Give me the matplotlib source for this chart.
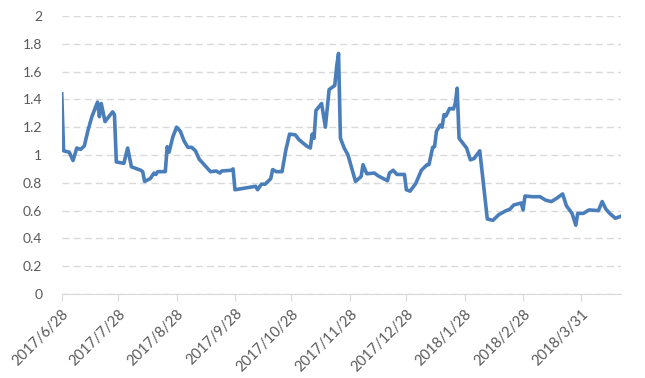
import matplotlib
matplotlib.use('Agg')
import matplotlib.pyplot as plt
import numpy as np
import pandas as pd

# data: days after 2017/6/28 and value
start_date = '2017-06-28'
day_offset = [0, 1, 4, 6, 8, 10, 12, 14, 16, 19, 20, 21, 23, 27, 28, 29, 33, 35, 37,
              42, 43, 44, 47, 49, 50, 51, 55, 56, 57, 59, 61, 63, 65, 67, 69, 71, 73,
              79, 82, 84, 85, 90, 91, 92, 103, 104, 106, 108, 111, 112, 114, 117, 119,
              121, 124, 126, 130, 132, 133, 134, 135, 138, 140, 142, 145, 146, 147,
              148, 150, 152, 156, 159, 160, 162, 166, 168, 173, 174, 176, 178, 182,
              183, 185, 188, 191, 194, 195, 197, 198, 199, 201, 202, 203, 204, 206,
              208, 209, 210, 211, 215, 217, 219, 222, 226, 229, 232, 236, 238, 240,
              244, 245, 246, 250, 252, 254, 257, 260, 263, 266, 268, 271, 273, 274,
              277, 280, 285, 287, 289, 291, 294, 297]
values = [1.44, 1.03, 1.02, 0.96, 1.05, 1.04, 1.065, 1.18, 1.275, 1.38, 1.275, 1.37,
          1.24, 1.31, 1.29, 0.95, 0.94, 1.05, 0.915, 0.89, 0.88, 0.81, 0.83, 0.87,
          0.86, 0.88, 0.88, 1.06, 1.02, 1.13, 1.20, 1.17, 1.10, 1.055, 1.055, 1.03,
          0.97, 0.88, 0.885, 0.87, 0.885, 0.89, 0.90, 0.75, 0.775, 0.75, 0.79, 0.79,
          0.83, 0.895, 0.88, 0.88, 1.035, 1.15, 1.145, 1.11, 1.065, 1.05, 1.15, 1.12,
          1.32, 1.37, 1.20, 1.47, 1.50, 1.635, 1.73, 1.12, 1.05, 1.0, 0.81, 0.845,
          0.93, 0.865, 0.87, 0.85, 0.815, 0.87, 0.89, 0.86, 0.86, 0.75, 0.74, 0.795,
          0.89, 0.93, 0.93, 1.055, 1.06, 1.17, 1.215, 1.20, 1.29, 1.28, 1.335, 1.33,
          1.37, 1.48, 1.12, 1.05, 0.965, 0.975, 1.03, 0.54, 0.53, 0.57, 0.60, 0.61,
          0.64, 0.655, 0.605, 0.705, 0.70, 0.70, 0.70, 0.675, 0.665, 0.69, 0.72,
          0.635, 0.58, 0.495, 0.58, 0.58, 0.605, 0.60, 0.665, 0.61, 0.58, 0.545, 0.56]

tick_dates = ['2017-06-28', '2017-07-28', '2017-08-28', '2017-09-28', '2017-10-28',
              '2017-11-28', '2017-12-28', '2018-01-28', '2018-02-28', '2018-03-31']
tick_labels = ['2017/6/28', '2017/7/28', '2017/8/28', '2017/9/28', '2017/10/28',
               '2017/11/28', '2017/12/28', '2018/1/28', '2018/2/28', '2018/3/31']

plt.rcParams['font.family'] = ['Lato', 'DejaVu Sans']

dates = pd.to_datetime(start_date) + pd.to_timedelta(day_offset, unit='D')

fig = plt.figure(figsize=(6.45, 3.78), dpi=100)
ax = fig.add_axes([0.0957, 0.222, 0.8671, 0.736])

ax.plot(dates, values, color='#4a7ebb', linewidth=2.6, solid_joinstyle='round')

ax.set_ylim(0, 2)
ax.set_yticks(np.arange(0, 2.01, 0.2))
ax.set_yticklabels(['0', '0.2', '0.4', '0.6', '0.8', '1', '1.2', '1.4', '1.6', '1.8', '2'])
ax.set_xlim(pd.to_datetime(start_date), pd.to_datetime(start_date) + pd.Timedelta(days=297))
ax.set_xticks(pd.to_datetime(tick_dates))
ax.set_xticklabels(tick_labels, rotation=45, ha='right', rotation_mode='anchor')

ax.grid(axis='y', color='#d9d9d9', linestyle=(0, (5, 3)), linewidth=1)
ax.set_axisbelow(True)
for s in ['top', 'right', 'left']:
    ax.spines[s].set_visible(False)
ax.spines['bottom'].set_color('#d9d9d9')
ax.tick_params(axis='y', length=0, pad=14, labelsize=10, labelcolor='#595959')
ax.tick_params(axis='x', length=5, color='#d9d9d9', pad=4, labelsize=10.5, labelcolor='#595959')

fig.savefig('out.png', dpi=100)
